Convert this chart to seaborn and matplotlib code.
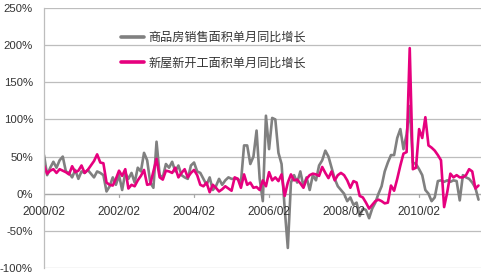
import numpy as np
import pandas as pd
import matplotlib
matplotlib.use("Agg")
import matplotlib.pyplot as plt
import seaborn as sns
from matplotlib.lines import Line2D

# ---- data (monthly YoY growth, %) ----
sales_label = "商品房销售面积单月同比增长"
starts_label = "新屋新开工面积单月同比增长"

sales = [52, 25, 35, 43, 35, 45, 50, 30, 28, 22, 32, 20,
         30, 28, 32, 27, 22, 30, 28, 25, 3, 10, 22, 12,
         25, 5, 28, 20, 28, 15, 35, 30, 55, 45, 15, 8,
         70, 25, 22, 40, 35, 43, 30, 38, 25, 22, 20, 38,
         42, 30, 28, 20, 12, 22, 5, 10, 20, 12, 18, 22,
         20, 20, 20, 15, 65, 65, 40, 50, 85, 20, -10, 105,
         60, 102, 100, 55, 40, -20, -73, 15, 25, 15, 30, 10,
         22, 5, 25, 18, 38, 45, 58, 50, 35, 20, 10, 5,
         0, -10, -5, -15, -12, -30, -20, -22, -33, -20, -12, 0,
         10, 30, 42, 52, 52, 75, 87, 60, 80, 118, 42, 40,
         33, 25, 5, 0, -10, -5, 17, 18, 16, 18, 16, 18,
         17, -9, 25, 22, 20, 15, 8, -8]

starts = [38, 27, 31, 33, 28, 33, 31, 29, 26, 37, 29, 31,
          38, 28, 32, 38, 44, 53, 42, 41, 15, 12, 11, 20,
          31, 24, 33, 7, 12, 10, 18, 24, 32, 12, 13, 30,
          47, 22, 19, 31, 30, 28, 35, 22, 28, 33, 22, 28,
          32, 25, 12, 10, 15, 2, 12, 8, 3, 6, 10, 7,
          4, 22, 20, 8, 26, 12, 15, 8, 9, 5, 18, 10,
          29, 18, 22, 17, 26, -3, 15, 26, 18, 19, 14, 8,
          20, 25, 27, 26, 24, 36, 28, 21, 30, 18, 25, 28,
          25, 18, 8, 17, 15, -3, -5, -12, -20, -15, -10, -8,
          -10, -13, -12, 11, 4, 20, 38, 54, 56, 196, 33, 35,
          87, 75, 103, 65, 62, 58, 52, 45, -18, 2, 27, 22,
          25, 22, 22, 25, 33, 30, 7, 11]

xtick_labels = ["2000/02", "2002/02", "2004/02", "2006/02", "2008/02", "2010/02"]
ytick_values = [-100, -50, 0, 50, 100, 150, 200, 250]

dates = pd.date_range("2000-02-01", periods=len(sales), freq="MS").strftime("%Y/%m")
df = pd.DataFrame({
    "t": np.arange(len(sales)),
    "date": dates,
    sales_label: sales,
    starts_label: starts,
})
long = df.melt(id_vars=["t", "date"], var_name="series", value_name="v")

sns.set_style("white")
plt.rcParams["font.family"] = ["Liberation Sans", "Noto Sans CJK SC", "DejaVu Sans"]

W, H = 483, 277
fig = plt.figure(figsize=(W / 100, H / 100), dpi=100)
ax = fig.add_axes([44 / W, 1 - 268 / H, (481 - 44) / W, (268 - 8) / H])

palette = {sales_label: "#808080", starts_label: "#e6007e"}
sns.lineplot(data=long, x="t", y="v", hue="series", palette=palette,
             hue_order=[sales_label, starts_label], linewidth=1.9, ax=ax,
             legend=False)

ax.set_xlim(0, len(sales) - 0.2)
ax.set_ylim(-100, 250)
ax.set_yticks(ytick_values)
ax.set_yticklabels([f"{v}%" for v in ytick_values], fontsize=8.2, color="#333333")
ax.tick_params(axis="y", length=0, pad=8)
ax.yaxis.grid(True, color="#bdbdbd", linewidth=0.9)
ax.set_axisbelow(True)
for s in ["top", "right", "bottom"]:
    ax.spines[s].set_visible(False)
ax.spines["left"].set_color("#bdbdbd")
ax.spines["left"].set_linewidth(0.9)
ax.set_xlabel("")
ax.set_ylabel("")

# x axis drawn at 0 with labels below it
ax.set_xticks([])
ax.axhline(0, color="#a8a8a8", linewidth=0.9, zorder=1)
dl = list(dates)
for lab in xtick_labels:
    pos = dl.index(lab)
    ax.plot([pos, pos], [0, -4], color="#a8a8a8", linewidth=0.9, zorder=1)
    ax.text(pos, -24, lab, ha="center", va="center", fontsize=8.6, color="#333333")

handles = [Line2D([], [], color=palette[sales_label], linewidth=2.6),
           Line2D([], [], color=palette[starts_label], linewidth=2.6)]
ax.legend(handles, [sales_label, starts_label], loc="upper left",
          bbox_to_anchor=(121 / W, 1 - 31 / H), bbox_transform=fig.transFigure,
          frameon=False, prop={"family": ["Noto Sans CJK SC", "DejaVu Sans"], "size": 8.7},
          handlelength=1.9, handletextpad=0.35, labelspacing=1.05, borderpad=0,
          borderaxespad=0, labelcolor="#333333")

fig.savefig("out.png", dpi=100)
